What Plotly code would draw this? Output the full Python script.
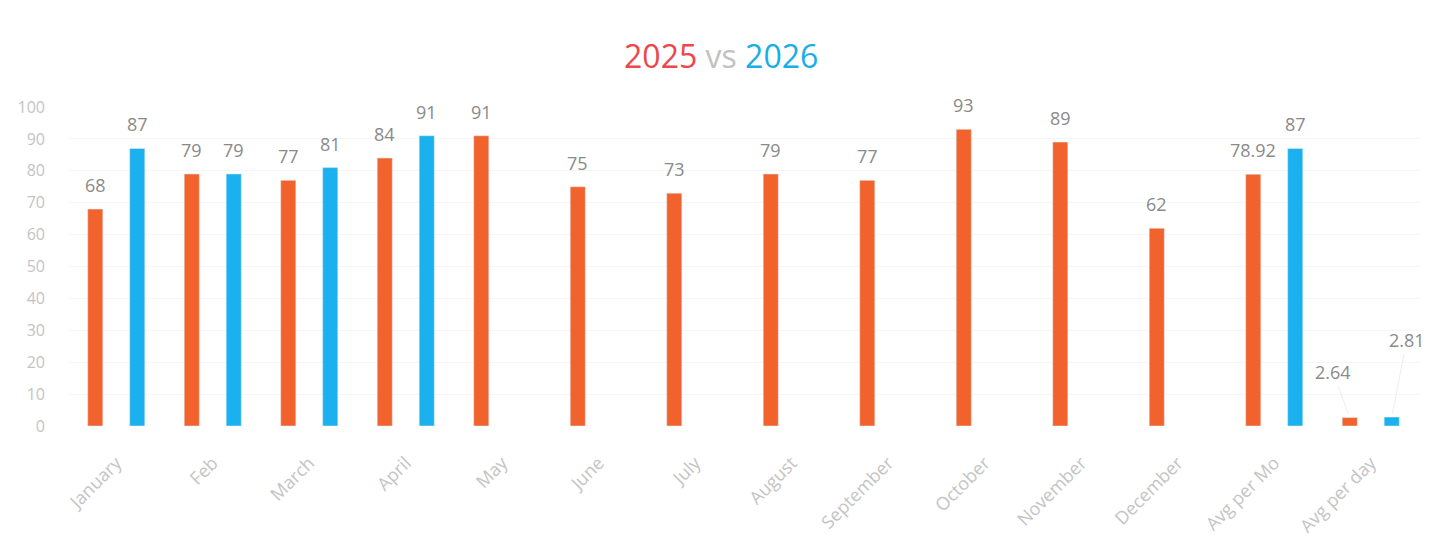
import plotly.graph_objects as go

categories = ["January", "Feb", "March", "April", "May", "June", "July", "August",
              "September", "October", "November", "December", "Avg per Mo", "Avg per day"]
values_2025 = [68, 79, 77, 84, 91, 75, 73, 79, 77, 93, 89, 62, 78.92, 2.64]
values_2026 = [87, 79, 81, 91, None, None, None, None, None, None, None, None, 87, 2.81]
y_ticks = [0, 10, 20, 30, 40, 50, 60, 70, 80, 90, 100]

ORANGE = "#F2622C"
BLUE = "#1BB0EE"
LABEL = "#8A8A8A"
AXIS = "#C4C4C4"
FONT = "Open Sans, Liberation Sans, sans-serif"

# page body has an 8px default margin: size the figure to the visible area
W, H = 1435, 533
BAR_SHIFT = 21  # pixel offset of each bar from its category centre


def fmt(v):
    return "" if v is None else f"{v:g}"


fig = go.Figure()
fig.add_trace(go.Bar(x=categories, y=values_2025, name="2025", marker_color=ORANGE,
                     cliponaxis=False))
fig.add_trace(go.Bar(x=categories, y=values_2026, name="2026", marker_color=BLUE,
                     cliponaxis=False))

# value labels floating above the bars
for series, shift in ((values_2025, -BAR_SHIFT), (values_2026, BAR_SHIFT)):
    for cat, v in zip(categories, series):
        if v is None:
            continue
        if cat == "Avg per day":
            continue
        fig.add_annotation(x=cat, y=v, xshift=shift, yshift=24, yanchor="middle",
                           text=fmt(v), showarrow=False,
                           font=dict(color=LABEL, size=18, family=FONT))

# small "Avg per day" values get leader-line callouts
fig.add_annotation(x="Avg per day", y=values_2025[-1], xshift=-BAR_SHIFT, ax=-17, ay=-46,
                   text=fmt(values_2025[-1]), showarrow=True, arrowhead=0, arrowwidth=1,
                   arrowcolor="#EEEEEE", font=dict(color=LABEL, size=18, family=FONT),
                   standoff=4)
fig.add_annotation(x="Avg per day", y=values_2026[-1], xshift=BAR_SHIFT, ax=15, ay=-77,
                   text=fmt(values_2026[-1]), showarrow=True, arrowhead=0, arrowwidth=1,
                   arrowcolor="#EEEEEE", font=dict(color=LABEL, size=18, family=FONT),
                   standoff=4)

fig.update_layout(
    width=W, height=H,
    paper_bgcolor="white", plot_bgcolor="white",
    barmode="group", bargap=0.13, bargroupgap=0.64,
    showlegend=False,
    margin=dict(l=60, r=24, t=99, b=115),
    title=dict(
        text="<span style='color:#EC474D'>2025</span> <span style='color:#C2C2C2'>vs</span> "
             "<span style='color:#1AAEE6'>2026</span>",
        x=0.497, xanchor="center", y=1 - 49 / H, yanchor="middle",
        font=dict(size=32, family=FONT)),
    font=dict(family=FONT),
)
fig.update_xaxes(tickangle=-45, tickfont=dict(color=AXIS, size=18, family=FONT),
                 ticklabelstandoff=22, automargin=False,
                 showline=False, ticks="", showgrid=False, range=[-0.5, len(categories) - 0.5])
fig.update_yaxes(range=[0, 100], tickvals=y_ticks, tickfont=dict(color=AXIS, size=16, family=FONT),
                 ticklabelstandoff=22, automargin=False,
                 showgrid=True, gridcolor="#F5F5F5", zeroline=False, showline=False, ticks="")

fig.write_html("out.html")
